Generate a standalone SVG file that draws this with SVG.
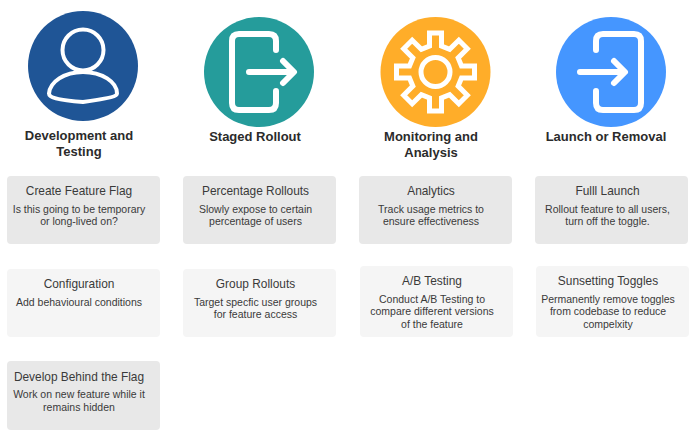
<svg xmlns="http://www.w3.org/2000/svg" width="699" height="441" viewBox="0 0 699 441">
<style>
text{font-family:"Liberation Sans",Arial,sans-serif;text-anchor:middle;fill:#3a3a3a}
.h{font-size:13px;font-weight:bold;fill:#2b2b2b}
.t{font-size:11.900px}
.d{font-size:10.500px}
.a{fill:#e8e8e8}
.b{fill:#f5f5f5}
.i{fill:none;stroke:#fff;stroke-width:6;stroke-linecap:round;stroke-linejoin:round}
.g{fill:none;stroke:#fff;stroke-width:5}
</style>
<rect width="699" height="441" fill="#fff"/>
<g id="connectors"></g>
<g id="stage-development">
<circle cx="83" cy="66" r="55" fill="#1f5596"/>
<circle cx="83" cy="50" r="20.500" fill="none" stroke="#fff" stroke-width="4"/>
<path d="M49 93.500C50 82 64 72 83 72C102 72 117 82 117 93.500C117 96 112 98 83 102C56 100 49 97 49 93.500Z" fill="none" stroke="#fff" stroke-width="4" stroke-linejoin="round"/>
<text class="h" x="79" y="140">Development and</text>
<text class="h" x="79" y="156">Testing</text>
</g>
<g id="stage-rollout">
<circle cx="259" cy="72" r="55" fill="#259c9b"/>
<path class="i" d="M276 50V41Q276 34 269 34H239Q232 34 232 41V103Q232 110 239 110H269Q276 110 276 103V91"/>
<path class="i" d="M249 72H293M283 61L294 72L283 83"/>
<text class="h" x="255" y="141">Staged Rollout</text>
</g>
<g id="stage-monitoring">
<circle cx="435.500" cy="72" r="55" fill="#ffad29"/>
<g transform="translate(435.500 72)">
<path class="g" d="M-6 -26L-6 -39L6 -39L6 -26L14.140 -22.630L23.330 -31.820L31.820 -23.330L22.630 -14.140L26 -6L39 -6L39 6L26 6L22.630 14.140L31.820 23.330L23.330 31.820L14.140 22.630L6 26L6 39L-6 39L-6 26L-14.140 22.630L-23.330 31.820L-31.820 23.330L-22.630 14.140L-26 6L-39 6L-39 -6L-26 -6L-22.630 -14.140L-31.820 -23.330L-23.330 -31.820L-14.140 -22.630Z"/>
<circle r="14.500" class="g"/>
</g>
<text class="h" x="431" y="141">Monitoring and</text>
<text class="h" x="431" y="157">Analysis</text>
</g>
<g id="stage-launch">
<circle cx="611" cy="72" r="55" fill="#4596ff"/>
<path class="i" d="M596 50V41Q596 34 603 34H634Q641 34 641 41V103Q641 110 634 110H603Q596 110 596 103V91"/>
<path class="i" d="M580 72H624M614 61L625 72L614 83"/>
<text class="h" x="606" y="141">Launch or Removal</text>
</g>
<g id="card-create"><rect class="a" x="7" y="176" width="153" height="68" rx="4"/><text class="t" x="79" y="195">Create Feature Flag</text><text class="d" x="79" y="213">Is this going to be temporary</text><text class="d" x="79" y="225">or long-lived on?</text></g>
<g id="card-config"><rect class="b" x="7" y="269" width="153" height="68" rx="4"/><text class="t" x="79" y="288">Configuration</text><text class="d" x="79" y="306">Add behavioural conditions</text></g>
<g id="card-develop"><rect class="a" x="7" y="361" width="153" height="69" rx="4"/><text class="t" x="79" y="381">Develop Behind the Flag</text><text class="d" x="79" y="398">Work on new feature while it</text><text class="d" x="79" y="411">remains hidden</text></g>
<g id="card-percentage"><rect class="a" x="183" y="176" width="153" height="68" rx="4"/><text class="t" x="255.500" y="195">Percentage Rollouts</text><text class="d" x="255.500" y="213">Slowly expose to certain</text><text class="d" x="255.500" y="225">percentage of users</text></g>
<g id="card-group"><rect class="b" x="183" y="269" width="153" height="68" rx="4"/><text class="t" x="255.500" y="288">Group Rollouts</text><text class="d" x="255.500" y="306">Target specfic user groups</text><text class="d" x="255.500" y="318">for feature access</text></g>
<g id="card-analytics"><rect class="a" x="359" y="176" width="153" height="68" rx="4"/><text class="t" x="431" y="195">Analytics</text><text class="d" x="431" y="213">Track usage metrics to</text><text class="d" x="431" y="225">ensure effectiveness</text></g>
<g id="card-ab"><rect class="b" x="360" y="266" width="153" height="71" rx="4"/><text class="t" x="432" y="285">A/B Testing</text><text class="d" x="432" y="303">Conduct A/B Testing to</text><text class="d" x="432" y="315">compare different versions</text><text class="d" x="432" y="328">of the feature</text></g>
<g id="card-launch"><rect class="a" x="535" y="176" width="153" height="68" rx="4"/><text class="t" x="607.500" y="195">Fulll Launch</text><text class="d" x="607.500" y="213">Rollout feature to all users,</text><text class="d" x="607.500" y="225">turn off the toggle.</text></g>
<g id="card-sunset"><rect class="b" x="536" y="266" width="153" height="71" rx="4"/><text class="t" x="608" y="285">Sunsetting Toggles</text><text class="d" x="608" y="303">Permanently remove toggles</text><text class="d" x="608" y="315">from codebase to reduce</text><text class="d" x="608" y="328">compelxity</text></g>
</svg>
